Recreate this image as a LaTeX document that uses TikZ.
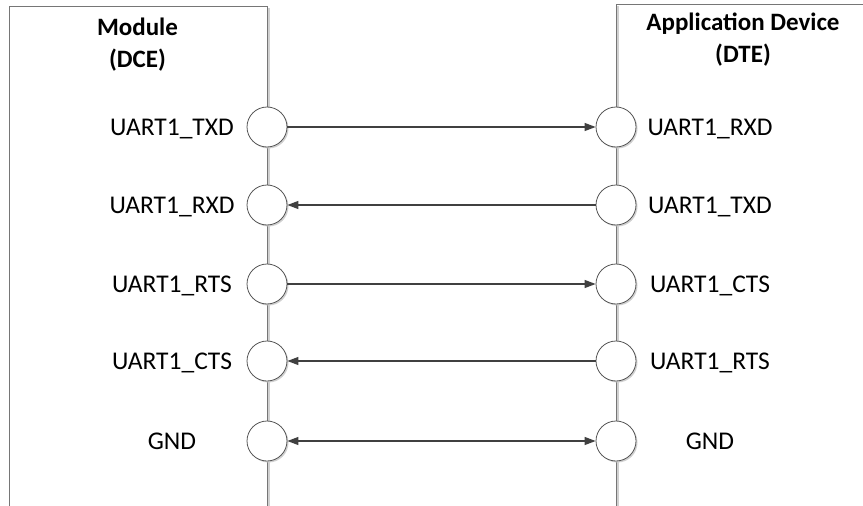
\documentclass[tikz,border=0pt]{standalone}
\usepackage{fontspec}
\setmainfont{Carlito}
\usetikzlibrary{arrows.meta}
\definecolor{wirecol}{HTML}{404040}
\definecolor{pincol}{HTML}{555555}
\definecolor{edgecol}{HTML}{767676}
\definecolor{shadecol}{HTML}{D0D0D0}

\begin{document}
\begin{tikzpicture}[
  x=1pt, y=-1pt,
  pin/.style={
    draw=pincol,
    circle,
    fill=white,
    line width=0.8pt,
    minimum size=40pt,
    inner sep=0pt
    },
  pinshade/.style={
    circle,
    fill=shadecol,
    minimum size=40pt,
    inner sep=0pt
    },
  sigtext/.style={font=\fontsize{25.5}{30}\selectfont, anchor=base},
  headtext/.style={font=\fontsize{25}{32}\selectfont\bfseries, align=center},
  boxedge/.style={draw=edgecol, line width=1pt},
  boxshade/.style={draw=shadecol, line width=2pt},
  wire/.style={draw=wirecol, line width=1.2pt,
    >={Triangle[length=11pt,width=8pt]}}
]
\useasboundingbox (0,0) rectangle (863,506);

% the two units
\draw[boxshade] (269,8) -- (269,506);
\draw[boxshade] (618,6) -- (618,506);
\draw[boxedge] (9,506) -- (9,6) -- (267,6) -- (267,506);
\draw[boxedge] (616,506) -- (616,4) -- (863,4);

\node[headtext] (dce) at (137.5,45) {Module\\(DCE)};
\node[headtext] (dte) at (743,40) {Application Device\\(DTE)};

% pins and signal names
\foreach \n/\y/\a/\b in {1/127/UART1\_TXD/UART1\_RXD,
                         2/205/UART1\_RXD/UART1\_TXD,
                         3/284/UART1\_RTS/UART1\_CTS,
                         4/361/UART1\_CTS/UART1\_RTS,
                         5/441/GND/GND}{
  \node[pinshade] at (268.5,\y+1.5) {};
  \node[pinshade] at (617.5,\y+1.5) {};
  \node[pin] (l\n) at (267,\y) {};
  \node[pin] (r\n) at (616,\y) {};
  \node[sigtext] (la\n) at (172,\y+8) {\a};
  \node[sigtext] (ra\n) at (710,\y+8) {\b};
}

% connections
\draw[wire,->] (l1) -- (r1);
\draw[wire,->] (r2) -- (l2);
\draw[wire,->] (l3) -- (r3);
\draw[wire,->] (r4) -- (l4);
\draw[wire,<->] (l5) -- (r5);
\end{tikzpicture}
\end{document}
